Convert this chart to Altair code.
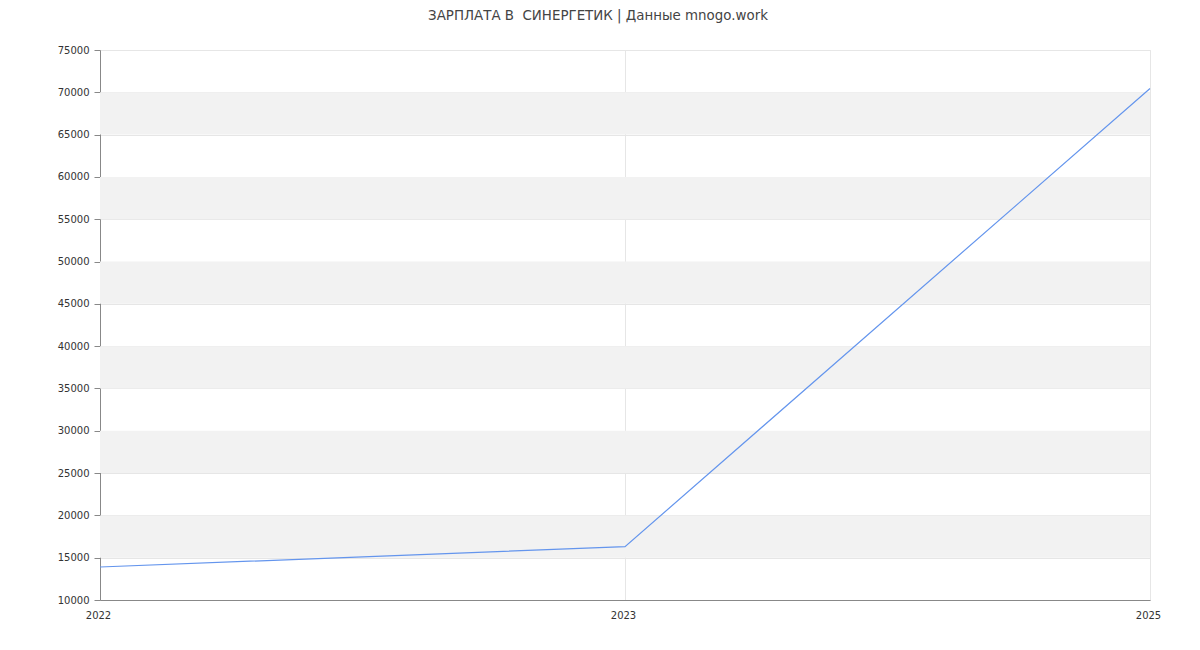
import altair as alt
import pandas as pd

years = ["2022", "2023", "2025"]
salaries = [13900, 16300, 70450]
band_starts = [15000, 25000, 35000, 45000, 55000, 65000]
band_ends = [20000, 30000, 40000, 50000, 60000, 70000]
y_ticks = list(range(10000, 75001, 5000))

df = pd.DataFrame({"year": years, "salary": salaries})
bands = pd.DataFrame({"y0": band_starts, "y1": band_ends})

FONT = "DejaVu Sans"

yscale = alt.Scale(domain=[10000, 75000], nice=False, zero=False)

band_layer = alt.Chart(bands).mark_rect(color="#f2f2f2").encode(
    y=alt.Y("y0:Q", scale=yscale),
    y2="y1:Q",
)

line_layer = alt.Chart(df).mark_line(color="#6495ED", strokeWidth=1.2).encode(
    x=alt.X("year:O", scale=alt.Scale(type="point", padding=0), sort=years,
            axis=alt.Axis(title=None, labelAngle=0, ticks=False, grid=True,
                          gridColor="#e6e6e6", domainColor="#888888",
                          labelColor="#333333", labelFontSize=10, labelFont=FONT,
                          labelPadding=10, labelOffset=-2)),
    y=alt.Y("salary:Q", scale=yscale,
            axis=alt.Axis(title=None, values=y_ticks, format="d", grid=True,
                          gridColor="#e6e6e6",
                          domainColor="#888888", tickColor="#888888", tickSize=6,
                          labelColor="#333333", labelFontSize=10, labelFont=FONT,
                          labelPadding=5)),
)

chart = alt.layer(band_layer, line_layer).properties(
    width=1050,
    height=550,
    title=alt.TitleParams(
        text="ЗАРПЛАТА В \u00a0СИНЕРГЕТИК | Данные mnogo.work",
        font=FONT, fontSize=13.4, fontWeight="normal", color="#444444",
        anchor="middle", offset=23, dx=-27,
    ),
    padding={"left": 92, "top": 42, "right": 42, "bottom": 30},
    autosize=alt.AutoSizeParams(type="none"),
).configure_view(stroke="#e6e6e6", strokeWidth=1)

chart.save("out.html", embed_options={"renderer": "svg", "actions": False})
